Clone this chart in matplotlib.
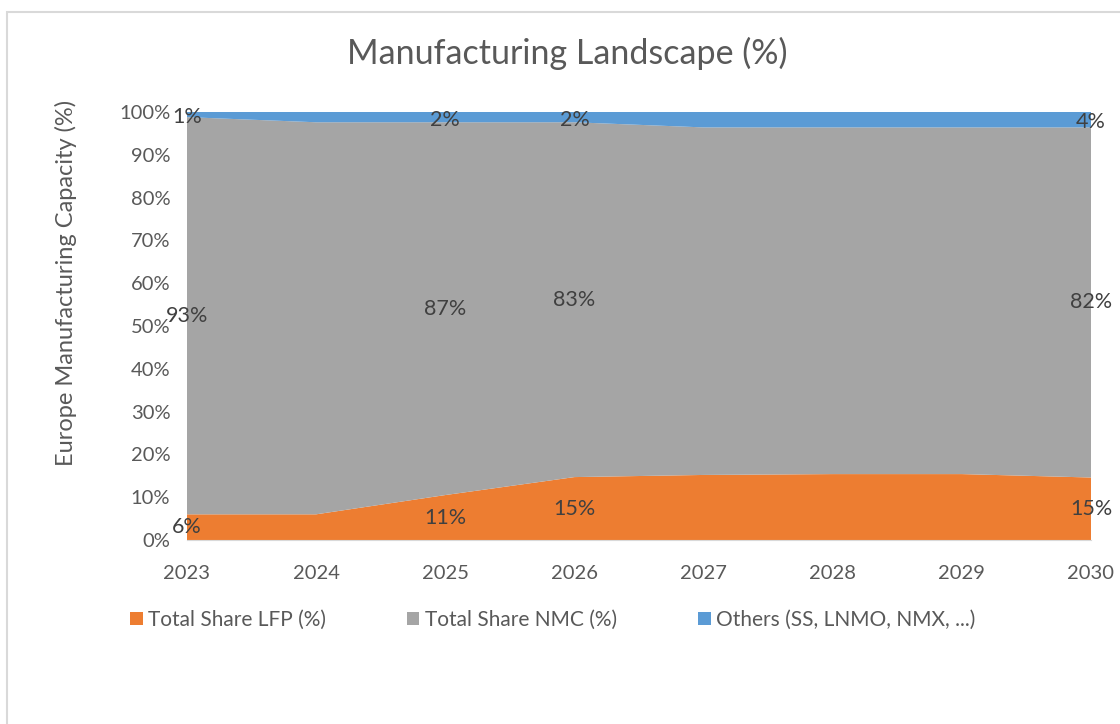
"""Manufacturing Landscape (%) — stacked area chart, Europe cathode chemistries."""

import matplotlib
matplotlib.use("Agg")
import matplotlib.pyplot as plt  # noqa: E402
from matplotlib.patches import Patch, Rectangle  # noqa: E402

# ─── Data ──────────────────────────────────────────────────────────────────
years = [2023, 2024, 2025, 2026, 2027, 2028, 2029, 2030]
lfp = [6.0, 6.0, 10.5, 14.7, 15.2, 15.4, 15.4, 14.6]
nmc = [92.8, 91.6, 87.1, 82.9, 81.2, 81.0, 81.0, 81.8]
others = [1.2, 2.4, 2.4, 2.4, 3.6, 3.6, 3.6, 3.6]

series_names = ["Total Share LFP (%)", "Total Share NMC (%)", "Others (SS, LNMO, NMX, ...)"]
y_ticks = [0, 10, 20, 30, 40, 50, 60, 70, 80, 90, 100]

# data labels shown only for a few years
label_years = [2023, 2025, 2026, 2030]
lfp_labels = ["6%", "11%", "15%", "15%"]
nmc_labels = ["93%", "87%", "83%", "82%"]
others_labels = ["1%", "2%", "2%", "4%"]

COLORS = ["#ED7D31", "#A5A5A5", "#5B9BD5"]
TXT = "#595959"
FONT = ["Lato", "DejaVu Sans"]

plt.rcParams["font.family"] = FONT

W, H = 1120, 724
fig = plt.figure(figsize=(W / 100, H / 100), dpi=100)

# chart frame (Excel chart area border, cut at the right/bottom)
fig.patches.append(Rectangle((7 / W, -0.2), 1.2, 1.2 - 12 / H, transform=fig.transFigure,
                             fill=False, edgecolor="#D9D9D9", linewidth=1.5))

ax = fig.add_axes([187 / W, 1 - 540 / H, (1091 - 187) / W, (540 - 112) / H])
ax.stackplot(years, lfp, nmc, others, colors=COLORS, linewidth=0)
ax.set_xlim(years[0], years[-1])
ax.set_ylim(0, 100)

ax.set_yticks(y_ticks)
ax.set_yticklabels([f"{v}%" for v in y_ticks])
ax.set_xticks(years)
ax.set_xticklabels([str(y) for y in years])
ax.tick_params(length=0, labelsize=14.5, labelcolor=TXT)
ax.tick_params(axis="x", pad=18)
ax.tick_params(axis="y", pad=12)
for s in ["top", "right", "left"]:
    ax.spines[s].set_visible(False)
ax.spines["bottom"].set_color("#D9D9D9")

# data labels, centred in each band
for yr, l1, l2, l3 in zip(label_years, lfp_labels, nmc_labels, others_labels):
    i = years.index(yr)
    a, b, c = lfp[i], nmc[i], others[i]
    kw = dict(ha="center", va="center", fontsize=15.5, color="#404040", clip_on=False)
    ax.text(yr, a / 2, l1, **kw)
    ax.text(yr, a + b / 2, l2, **kw)
    ax.text(yr, a + b + c / 2 - 0.6, l3, **kw)

fig.text(567 / W, 1 - 53 / H, "Manufacturing Landscape (%)", ha="center", va="center",
         fontsize=24.5, color=TXT)
fig.text(66 / W, 1 - 283 / H, "Europe Manufacturing Capacity (%)", ha="center", va="center",
         rotation=90, fontsize=17, color=TXT)

handles = [Patch(facecolor=c, edgecolor="none") for c in COLORS]
fig.legend(handles, series_names, loc="center left", bbox_to_anchor=(130 / W, 1 - 620 / H),
           ncol=3, frameon=False, fontsize=15, labelcolor=TXT, handlelength=0.6,
           handleheight=0.6, handletextpad=0.25, columnspacing=3.9,
           borderpad=0, borderaxespad=0)

fig.savefig("out.png", dpi=100)
